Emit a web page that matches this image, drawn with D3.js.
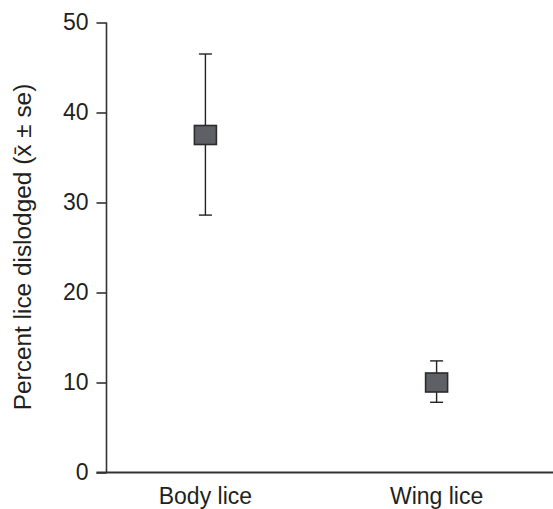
<!DOCTYPE html>
<html>
<head>
<meta charset="utf-8">
<script src="https://d3js.org/d3.v7.min.js"></script>
<style>
  body { margin: 0; background: #fff; }
  text { font-family: "Liberation Sans", Arial, Helvetica, sans-serif; fill: #231f20; }
</style>
</head>
<body>
<div id="vis"></div>
<script>
// values
let groups = ['Body lice', 'Wing lice'];
let means = [37.5, 10.0];
let upper = [46.5, 12.4];
let lower = [28.6, 7.8];
let yTicks = [0, 10, 20, 30, 40, 50];

let width = 553, height = 509;

let svg = d3.select('#vis')
  .append('svg')
  .attr('width', width)
  .attr('height', height);

let yScale = d3.scaleLinear().domain([0, 50]).range([472.5, 22.5]);
let xScale = d3.scalePoint().domain(groups).range([106, 536]).padding(0.43);

let axisColor = '#333';

// y axis
let yAxis = svg.append('g')
  .attr('transform', 'translate(106.5,0)')
  .call(d3.axisLeft(yScale).tickValues(yTicks).tickSize(10).tickPadding(8));
yAxis.select('.domain').remove();
yAxis.selectAll('line').attr('stroke', axisColor).attr('stroke-width', 1.6);
yAxis.selectAll('text')
  .style('font-size', '23px')
  .style('font-family', '"Liberation Sans", Arial, sans-serif')
  .attr('fill', '#231f20');

svg.append('line')
  .attr('x1', 106.5).attr('x2', 106.5)
  .attr('y1', yScale(50)).attr('y2', yScale(0))
  .attr('stroke', axisColor).attr('stroke-width', 1.6);

// x axis line
svg.append('line')
  .attr('x1', 96.5).attr('x2', width)
  .attr('y1', yScale(0)).attr('y2', yScale(0))
  .attr('stroke', axisColor).attr('stroke-width', 1.8);

// category labels
svg.selectAll('.xlab')
  .data(groups)
  .enter()
  .append('text')
  .attr('class', 'xlab')
  .attr('x', d => xScale(d))
  .attr('y', (d, i) => 503.5 + i * 0.5)
  .attr('text-anchor', 'middle')
  .style('font-size', '23px')
  .text(d => d);

// y label
svg.append('text')
  .attr('text-anchor', 'middle')
  .attr('transform', 'translate(31,247)rotate(-90)')
  .style('font-size', '24.4px')
  .text('Percent lice dislodged (x\u0304 \u00b1 se)');

// error bars
let bars = svg.append('g');
groups.forEach(function (g, i) {
  let cx = xScale(g);
  bars.append('line')
    .attr('x1', cx).attr('x2', cx)
    .attr('y1', yScale(upper[i])).attr('y2', yScale(lower[i]))
    .attr('stroke', '#222').attr('stroke-width', 1.4);
  [upper[i], lower[i]].forEach(function (v) {
    bars.append('line')
      .attr('x1', cx - 6.5).attr('x2', cx + 6.5)
      .attr('y1', yScale(v)).attr('y2', yScale(v))
      .attr('stroke', '#222').attr('stroke-width', 1.4);
  });
});

// mean markers
svg.append('g')
  .selectAll('rect')
  .data(means)
  .enter()
  .append('rect')
  .attr('x', (d, i) => xScale(groups[i]) - 11)
  .attr('y', d => yScale(d) - 9.5)
  .attr('width', 22)
  .attr('height', 19)
  .attr('fill', '#5f6065')
  .attr('stroke', '#2b2b2b')
  .attr('stroke-width', 1.6);
</script>
</body>
</html>
